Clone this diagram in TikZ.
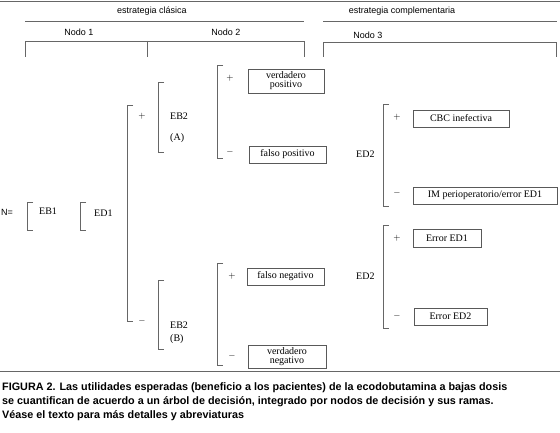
\documentclass[tikz,border=0pt]{standalone}
\usepackage{fontspec}
\setmainfont{Liberation Serif}
\setsansfont{Liberation Sans}
\begin{document}
\begin{tikzpicture}[x=1pt,y=-1pt,
  ln/.style={draw=black!60,line width=0.9pt},
  brk/.style={draw=black!60,line width=0.9pt},
  hd/.style={font=\sffamily\fontsize{9}{10}\selectfont,inner sep=0pt},
  tx/.style={font=\fontsize{10}{11}\selectfont,inner sep=0pt},
  sg/.style={font=\fontsize{9}{10}\selectfont,inner sep=0pt},
  bx/.style={draw=black!65,line width=0.8pt,font=\fontsize{10}{11}\selectfont,inner sep=0pt,align=center},
  captxt/.style={font=\sffamily\bfseries\fontsize{10.8}{12}\selectfont,inner sep=0pt,anchor=west},
]
\useasboundingbox (0,0) rectangle (560,433);
\fill[white] (0,0) rectangle (560,433);
% top rule and headers
\draw[ln] (0,1) -- (560,1);
\node[hd] (ec) at (152,11) {estrategia clásica};
\node[hd] (ecomp) at (402,11) {estrategia complementaria};
\draw[ln] (25,21) -- (304,21);
\draw[ln] (323,21) -- (557,21);
\node[hd] (n1) at (79,32) {Nodo 1};
\node[hd] (n2) at (226,32) {Nodo 2};
\node[hd] (n3) at (368,35) {Nodo 3};
\draw[ln] (25,57) -- (25,41) -- (304,41) -- (304,57);
\draw[ln] (147,41) -- (147,57);
\draw[ln] (323,57) -- (323,42) -- (556,42) -- (556,57);
% brackets
\draw[brk] (33,202) -- (27,202) -- (27,230) -- (33,230);
\draw[brk] (86,202) -- (80,202) -- (80,230) -- (86,230);
\draw[brk] (133,105) -- (127,105) -- (127,321) -- (133,321);
\draw[brk] (164,82) -- (158,82) -- (158,152) -- (164,152);
\draw[brk] (164,280) -- (158,280) -- (158,349) -- (164,349);
\draw[brk] (223,65) -- (217,65) -- (217,158) -- (223,158);
\draw[brk] (223,263) -- (217,263) -- (217,365) -- (223,365);
\draw[brk] (389,104) -- (383,104) -- (383,206) -- (389,206);
\draw[brk] (389,225) -- (383,225) -- (383,328) -- (389,328);
% left labels
\node[hd,anchor=west] (N) at (1,212) {N=};
\node[tx,anchor=west] (eb1) at (39,211) {EB1};
\node[tx,anchor=west] (ed1) at (94,213) {ED1};
% signs
\node[sg] (p1) at (142,116) {$+$};
\node[sg] (m1) at (142,321) {$-$};
\node[sg] (p2) at (230,78) {$+$};
\node[sg] (m2) at (230,152) {$-$};
\node[sg] (p3) at (232,276) {$+$};
\node[sg] (m3) at (232,356) {$-$};
\node[sg] (p4) at (397,117) {$+$};
\node[sg] (m4) at (397,193) {$-$};
\node[sg] (p5) at (397,238) {$+$};
\node[sg] (m5) at (397,316) {$-$};
% EB2 / ED2 labels
\node[tx,anchor=west] (eb2a) at (170,116) {EB2};
\node[tx,anchor=west] (la) at (170,138) {(A)};
\node[tx,anchor=west] (eb2b) at (170,325) {EB2};
\node[tx,anchor=west] (lb) at (170,339) {(B)};
\node[tx,anchor=west] (ed2a) at (356,154) {ED2};
\node[tx,anchor=west] (ed2b) at (356,276) {ED2};
% boxes
\node[bx,minimum width=76pt,minimum height=24pt] (vp) at (286,81) {verdadero\\[-2pt]positivo};
\node[bx,minimum width=77pt,minimum height=17pt] (fp) at (287.5,154.5) {falso positivo};
\node[bx,minimum width=77pt,minimum height=17pt] (fn) at (285.5,276.5) {falso negativo};
\node[bx,minimum width=78pt,minimum height=23pt] (vn) at (287,356.5) {verdadero\\[-2pt]negativo};
\node[bx,minimum width=96pt,minimum height=17pt] (cbc) at (461,118.5) {CBC inefectiva};
\node[bx,minimum width=144pt,minimum height=17pt] (im) at (485,195.5) {IM perioperatorio/error ED1};
\node[bx,minimum width=68pt,minimum height=18pt] (e1) at (447,238) {Error ED1};
\node[bx,minimum width=73pt,minimum height=17pt] (e2) at (450.5,316.5) {Error ED2};
% caption
\draw[ln] (0,371) -- (560,371);
\node[captxt] (c1) at (2,388) {FIGURA 2. Las utilidades esperadas (beneficio a los pacientes) de la ecodobutamina a bajas dosis};
\node[captxt] (c2) at (2,402) {se cuantifican de acuerdo a un árbol de decisión, integrado por nodos de decisión y sus ramas.};
\node[captxt] (c3) at (2,416) {Véase el texto para más detalles y abreviaturas};
\end{tikzpicture}
\end{document}
